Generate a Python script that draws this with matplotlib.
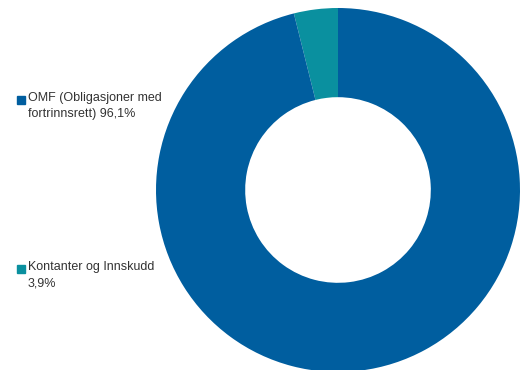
import matplotlib.pyplot as plt
from matplotlib.patches import Rectangle

labels = ["Kontanter og Innskudd", "OMF (Obligasjoner med fortrinnsrett)"]
values = [3.9, 96.1]
colors = ["#0A909F", "#005E9F"]

legend_text = ["OMF (Obligasjoner med\nfortrinnsrett) 96,1%", "Kontanter og Innskudd\n3,9%"]
legend_colors = [colors[1], colors[0]]

W, H = 529, 370
fig = plt.figure(figsize=(W / 100, H / 100), dpi=100)
ax = fig.add_axes([0, 0, 1, 1])

# donut: center (338, 190) px, outer radius 182 px
cx, cy, r = 338, 190, 182
ax.pie(values, colors=colors, startangle=90, counterclock=True,
       radius=1, wedgeprops=dict(width=0.49, edgecolor="none"))
ax.set_xlim(-cx / r, (W - cx) / r)
ax.set_ylim(-(H - cy) / r, cy / r)
ax.axis("off")

# legend entries at left
ys = [99, 268]
for txt, col, y in zip(legend_text, legend_colors, ys):
    fig.patches.append(Rectangle((17 / W, 1 - (y + 5) / H), 8 / W, 8 / H,
                                 transform=fig.transFigure, color=col))
    fig.text(28 / W, 1 - (y - 7) / H, txt, ha="left", va="top",
             fontsize=9, color="#333333", family="Liberation Sans",
             linespacing=1.45)

fig.savefig("out.png", dpi=100)
